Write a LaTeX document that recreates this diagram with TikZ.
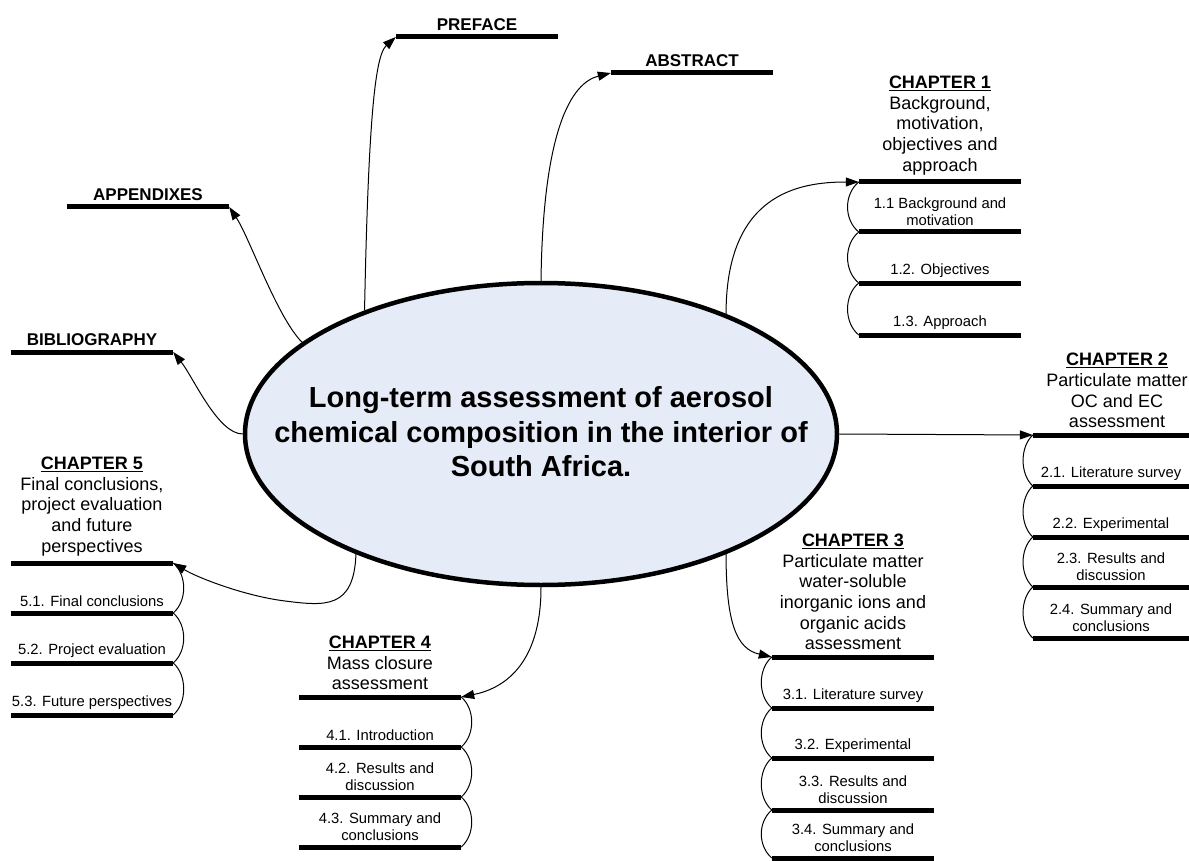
\documentclass[tikz,border=0pt]{standalone}
\usepackage{fontspec}
\setmainfont{Liberation Sans}
\usetikzlibrary{shapes.geometric,positioning,arrows.meta}
\definecolor{hubblue}{RGB}{230,236,247}
\newcommand{\hdfont}{\fontsize{18}{20.7}\selectfont}
\newcommand{\sbfont}{\fontsize{14.8}{17}\selectfont}
\newcommand{\lbfont}{\fontsize{17}{20}\selectfont\bfseries}
\newcommand{\ttlfont}{\fontsize{29}{34.5}\selectfont\bfseries}
\newcommand{\chap}[1]{\underline{\textbf{CHAPTER #1}}}
\tikzset{bar/.style={fill, inner sep=0pt, minimum height=5pt, minimum width=162pt}}
\tikzset{head/.style={align=center, font=\hdfont, inner sep=1pt}}
\tikzset{sub/.style={align=center, font=\sbfont, inner sep=1pt}}
\tikzset{lbl/.style={font=\lbfont, inner sep=1pt}}
\tikzset{link/.style={-{Triangle[length=13pt,width=9pt]}, line width=1pt}}
\tikzset{bow/.style={line width=1pt}}

\begin{document}
\begin{tikzpicture}[x=1pt,y=-1pt]
    \useasboundingbox (0,0) rectangle (1189,861);
    % centre
    \node[ellipse, draw, line width=4.5pt, fill=hubblue, minimum width=592pt, minimum height=302pt, inner sep=0pt] (hub) at (541,434) {};
    \node[font=\ttlfont, align=center] (title) at (541,432) {Long-term assessment of aerosol\\chemical composition in the interior of\\South Africa.};

    % front and back matter
    \node[bar] (pre) at (477,37) {};
    \node[lbl, above=2pt of pre] (pret) {PREFACE};
    \node[bar] (abs) at (692,73) {};
    \node[lbl, above=2pt of abs] (abst) {ABSTRACT};
    \node[bar] (app) at (148,207) {};
    \node[lbl, above=2pt of app] (appt) {APPENDIXES};
    \node[bar] (bib) at (92,352) {};
    \node[lbl, above=2pt of bib] (bibt) {BIBLIOGRAPHY};

    % chapter 1
    \node[bar] (c10) at (940,182) {};
    \node[head, above=3pt of c10] (c1t) {\chap{1}\\Background,\\motivation,\\objectives and\\approach};
    \node[bar] (c11) at (940,232) {};
    \node[sub, above=2pt of c11] (c11t) {1.1 Background and\\motivation};
    \node[bar] (c12) at (940,283) {};
    \node[sub, above=2pt of c12] (c12t) {1.2. Objectives};
    \node[bar] (c13) at (940,335) {};
    \node[sub, above=2pt of c13] (c13t) {1.3. Approach};

    % chapter 2
    \node[bar, minimum width=156pt] (c20) at (1111,435) {};
    \node[head, above=3pt of c20, xshift=6pt] (c2t) {\chap{2}\\Particulate matter\\OC and EC\\assessment};
    \node[bar, minimum width=156pt] (c21) at (1111,486) {};
    \node[sub, above=2pt of c21] (c21t) {2.1. Literature survey};
    \node[bar, minimum width=156pt] (c22) at (1111,537) {};
    \node[sub, above=2pt of c22] (c22t) {2.2. Experimental};
    \node[bar, minimum width=156pt] (c23) at (1111,587) {};
    \node[sub, above=2pt of c23] (c23t) {2.3. Results and\\discussion};
    \node[bar, minimum width=156pt] (c24) at (1111,638) {};
    \node[sub, above=2pt of c24] (c24t) {2.4. Summary and\\conclusions};

    % chapter 3
    \node[bar] (c30) at (853,657) {};
    \node[head, above=3pt of c30] (c3t) {\chap{3}\\Particulate matter\\water-soluble\\inorganic ions and\\organic acids\\assessment};
    \node[bar] (c31) at (853,708) {};
    \node[sub, above=2pt of c31] (c31t) {3.1. Literature survey};
    \node[bar] (c32) at (853,758) {};
    \node[sub, above=2pt of c32] (c32t) {3.2. Experimental};
    \node[bar] (c33) at (853,810) {};
    \node[sub, above=2pt of c33] (c33t) {3.3. Results and\\discussion};
    \node[bar] (c34) at (853,858) {};
    \node[sub, above=2pt of c34] (c34t) {3.4. Summary and\\conclusions};

    % chapter 4
    \node[bar] (c40) at (380,697) {};
    \node[head, above=3pt of c40] (c4t) {\chap{4}\\Mass closure\\assessment};
    \node[bar] (c41) at (380,747) {};
    \node[sub, above=2pt of c41] (c41t) {4.1. Introduction};
    \node[bar] (c42) at (380,797) {};
    \node[sub, above=2pt of c42] (c42t) {4.2. Results and\\discussion};
    \node[bar] (c43) at (380,847) {};
    \node[sub, above=2pt of c43] (c43t) {4.3. Summary and\\conclusions};

    % chapter 5
    \node[bar] (c50) at (92,563) {};
    \node[head, above=3pt of c50] (c5t) {\chap{5}\\Final conclusions,\\project evaluation\\and future\\perspectives};
    \node[bar] (c51) at (92,613) {};
    \node[sub, above=2pt of c51] (c51t) {5.1. Final conclusions};
    \node[bar] (c52) at (92,663) {};
    \node[sub, above=2pt of c52] (c52t) {5.2. Project evaluation};
    \node[bar] (c53) at (92,715) {};
    \node[sub, above=2pt of c53] (c53t) {5.3. Future perspectives};

    % links from the centre
    \draw[link] (hub.145) .. controls +(4,-200) and +(-20,18) .. (pre.west);
    \draw[link] (hub.north) .. controls +(2,-150) and +(-40,10) .. (abs.west);
    \draw[link] (hub.33) .. controls +(0,-120) and +(-60,0) .. (c10.west);
    \draw[link] (hub.east) -- (c20.west);
    \draw[link] (hub.327) .. controls +(0,70) and +(-35,-8) .. (c30.west);
    \draw[link] (hub.south) .. controls +(0,80) and +(40,-8) .. (c40.east);
    \draw[link] (hub.213) .. controls +(-2,55) and +(40,5) .. (285,601) .. controls +(-40,-5) and +(25,15) .. (c50.east);
    \draw[link] (hub.159) .. controls +(-25,-25) and +(20,30) .. (app.east);
    \draw[link] (hub.west) .. controls +(-25,0) and +(20,25) .. (bib.east);

    % bows between sections
    \draw[bow] (c10.west) .. controls +(-15,12) and +(-15,-12) .. (c11.west);
    \draw[bow] (c11.west) .. controls +(-15,12) and +(-15,-12) .. (c12.west);
    \draw[bow] (c12.west) .. controls +(-15,12) and +(-15,-12) .. (c13.west);
    \draw[bow] (c20.west) .. controls +(-13,12) and +(-13,-12) .. (c21.west);
    \draw[bow] (c21.west) .. controls +(-13,12) and +(-13,-12) .. (c22.west);
    \draw[bow] (c22.west) .. controls +(-13,12) and +(-13,-12) .. (c23.west);
    \draw[bow] (c23.west) .. controls +(-13,12) and +(-13,-12) .. (c24.west);
    \draw[bow] (c30.west) .. controls +(-14,12) and +(-14,-12) .. (c31.west);
    \draw[bow] (c31.west) .. controls +(-14,12) and +(-14,-12) .. (c32.west);
    \draw[bow] (c32.west) .. controls +(-14,12) and +(-14,-12) .. (c33.west);
    \draw[bow] (c33.west) .. controls +(-14,12) and +(-14,-12) .. (c34.west);
    \draw[bow] (c40.east) .. controls +(14,12) and +(14,-12) .. (c41.east);
    \draw[bow] (c41.east) .. controls +(14,12) and +(14,-12) .. (c42.east);
    \draw[bow] (c42.east) .. controls +(14,12) and +(14,-12) .. (c43.east);
    \draw[bow] (c50.east) .. controls +(14,12) and +(14,-12) .. (c51.east);
    \draw[bow] (c51.east) .. controls +(14,12) and +(14,-12) .. (c52.east);
    \draw[bow] (c52.east) .. controls +(14,12) and +(14,-12) .. (c53.east);
\end{tikzpicture}
\end{document}
